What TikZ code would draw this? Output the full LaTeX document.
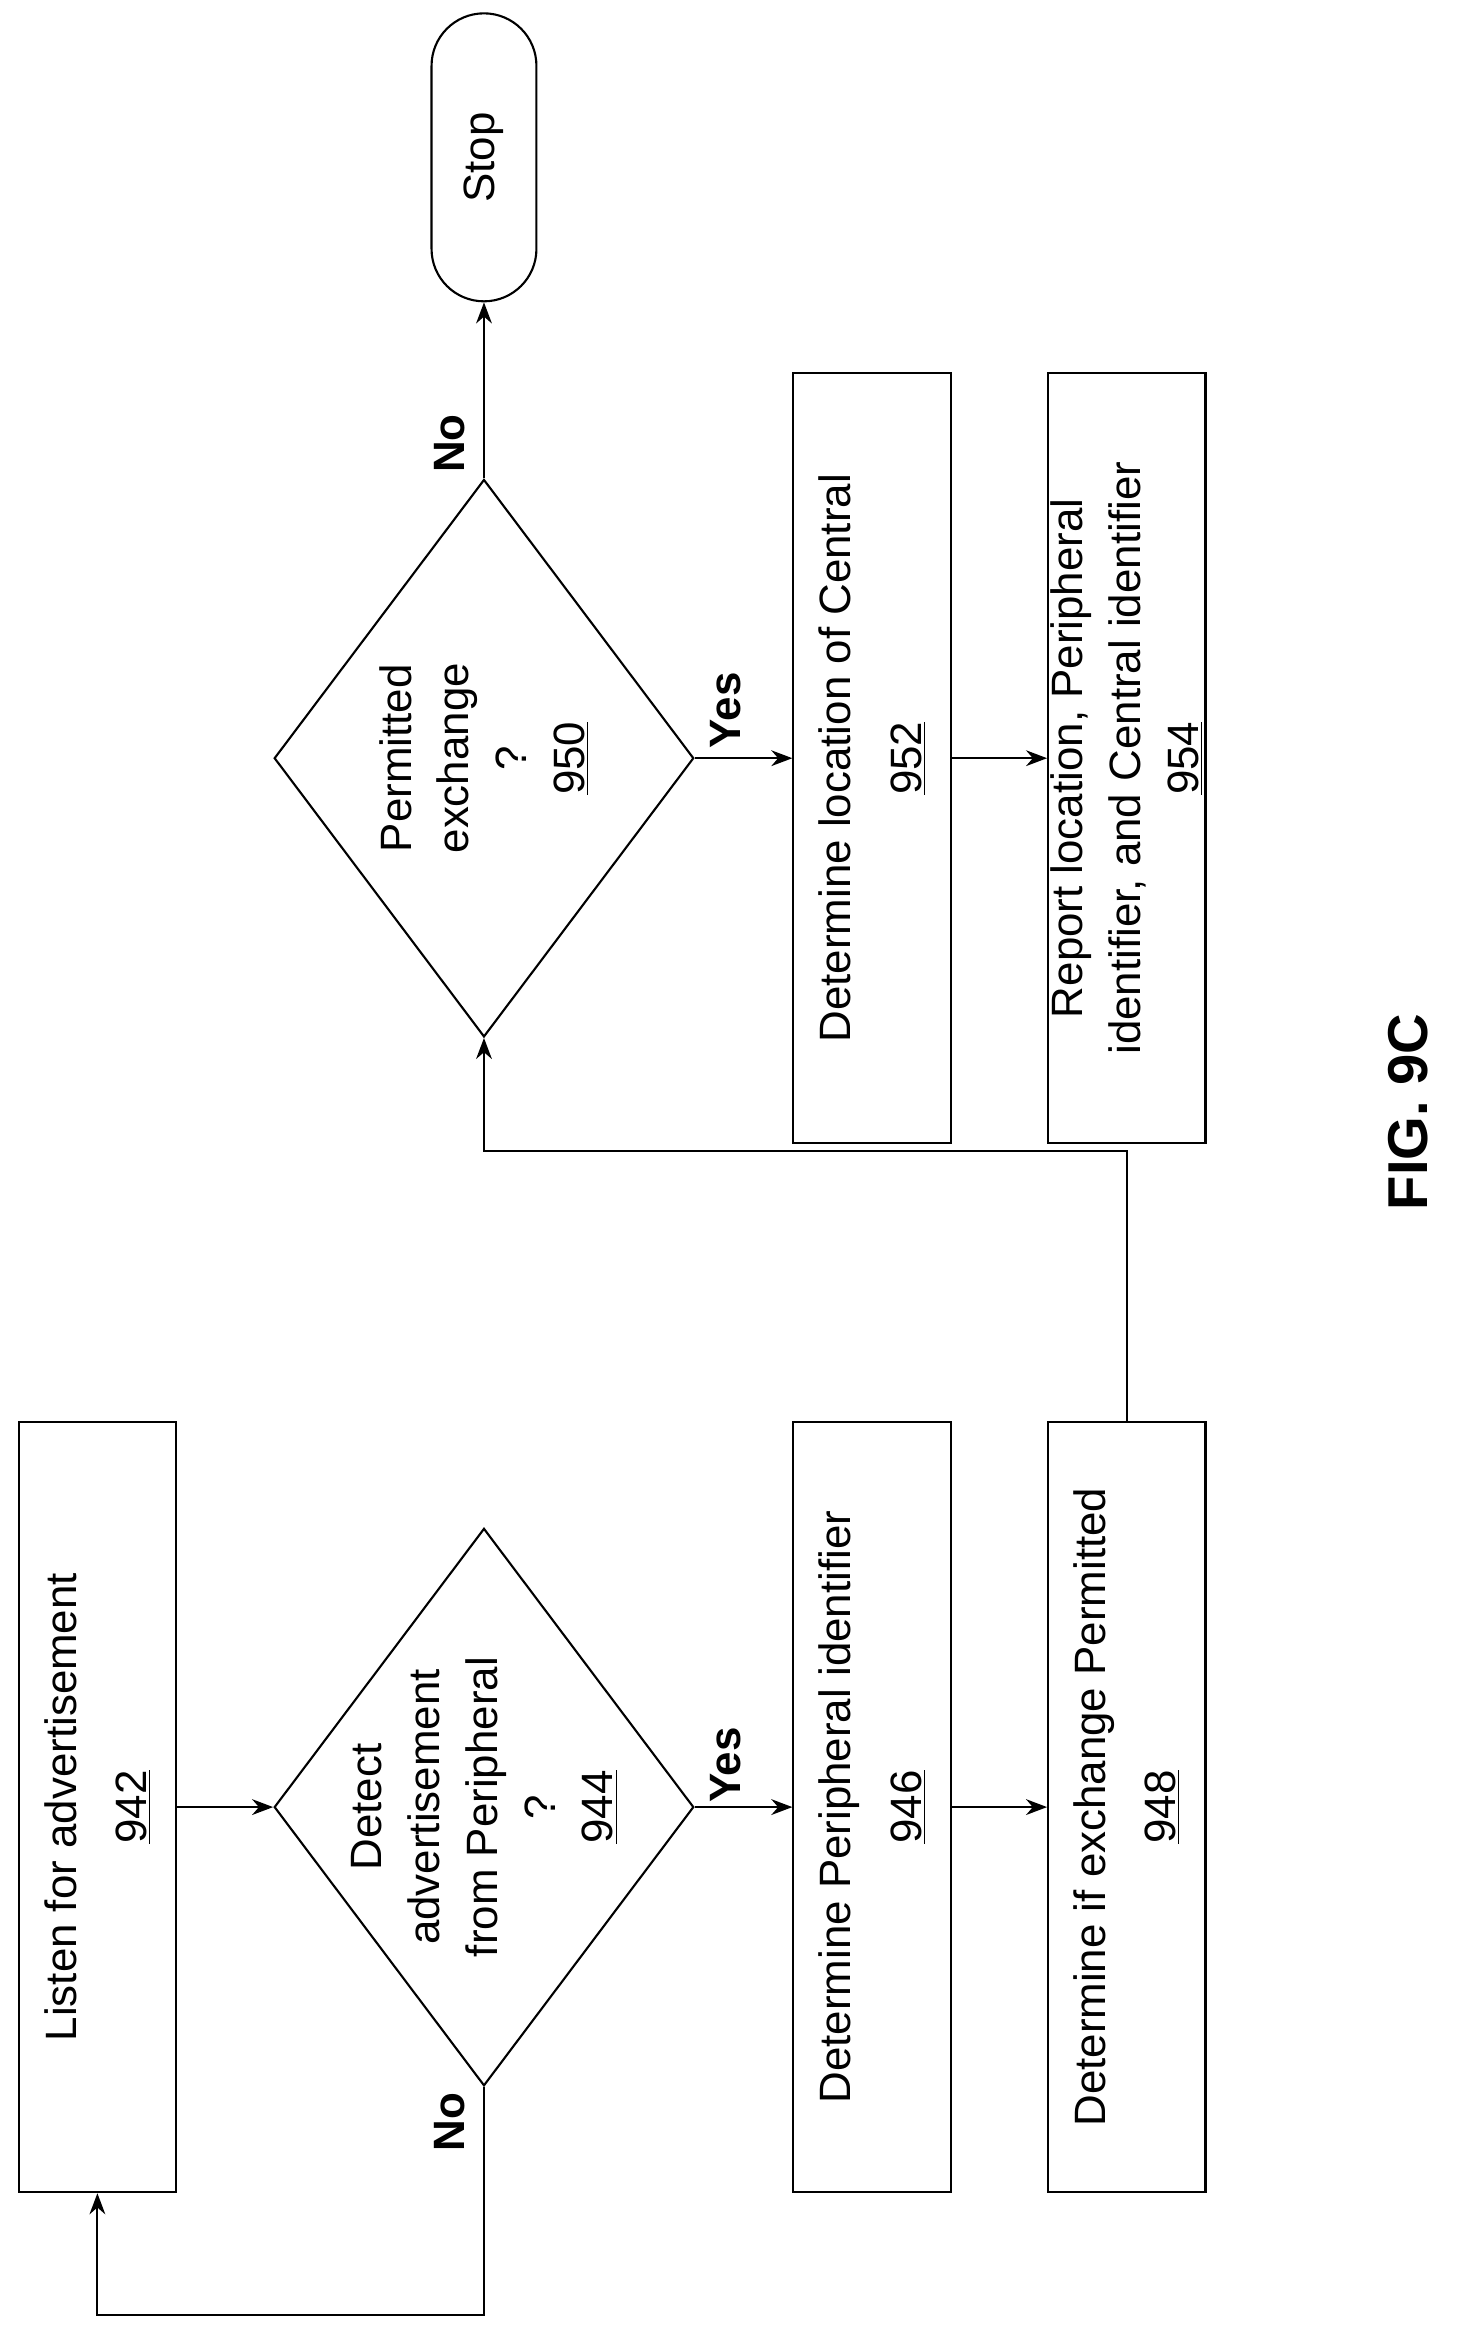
\documentclass[tikz,border=0pt]{standalone}
\usepackage{fontspec}
\setmainfont{Liberation Sans}
\usetikzlibrary{shapes.geometric,shapes.misc,arrows.meta}

\tikzset{
  every node/.style={rotate=90,align=center,font=\fontsize{25}{40}\selectfont},
  procbox/.style={draw,line width=1.2pt,rectangle,minimum width=15.42cm,minimum height=3.15cm,inner sep=0pt},
  test/.style={draw,line width=1.2pt,diamond,minimum width=11.16cm,minimum height=8.4cm,inner sep=0pt},
  testtext/.style={font=\fontsize{25}{33}\selectfont},
  term/.style={draw,line width=1.2pt,rounded rectangle,minimum width=6cm,minimum height=2.1cm},
  flow/.style={line width=1.2pt,-{Stealth[length=12pt,width=9pt]}},
  answer/.style={font=\bfseries\fontsize{25}{30}\selectfont}
}

\begin{document}
\begin{tikzpicture}[x=0.03cm,y=-0.03cm]
\useasboundingbox (0,0) rectangle (975,1565);
% left column
\node[procbox] (b942) at (65,1206) {Listen for advertisement\\\underline{942}};
\node[test] (d944) at (323,1206) {};
\node[testtext] (t944) at (323,1206) {Detect\\advertisement\\from Peripheral\\?\\\underline{944}};
\node[procbox] (b946) at (582,1206) {Determine Peripheral identifier\\\underline{946}};
\node[procbox] (b948) at (752,1206) {Determine if exchange Permitted\\\underline{948}};
% right column
\node[test] (d950) at (323,506) {};
\node[testtext] (t950) at (323,506) {Permitted\\exchange\\?\\\underline{950}};
\node[procbox] (b952) at (582,506) {Determine location of Central\\\underline{952}};
\node[procbox,font=\fontsize{25}{33}\selectfont] (b954) at (752,506) {Report location, Peripheral\\identifier, and Central identifier\\\underline{954}};
\node[term] (stop) at (323,105) {Stop};
\coordinate (c1) at (323,768);
\coordinate (c2) at (323,1545);
% connectors
\draw[flow] (b942.south) -- (d944.north);
\draw[flow] (d944.south) -- (b946.north);
\draw[flow] (b946.south) -- (b948.north);
\draw[flow] (b948.east) |- (c1) -- (d950.west);
\draw[flow] (d950.south) -- (b952.north);
\draw[flow] (b952.south) -- (b954.north);
\draw[flow] (d950.east) -- (stop.west);
\draw[flow] (d944.west) -- (c2) -| (b942.west);
% labels
\node[answer] (yes944) at (484,1178) {Yes};
\node[answer] (no944) at (300,1416) {No};
\node[answer] (yes950) at (484,474) {Yes};
\node[answer] (no950) at (300,296) {No};
\node[font=\bfseries\fontsize{32}{36}\selectfont] (fig) at (940,742) {FIG. 9C};
\end{tikzpicture}
\end{document}
